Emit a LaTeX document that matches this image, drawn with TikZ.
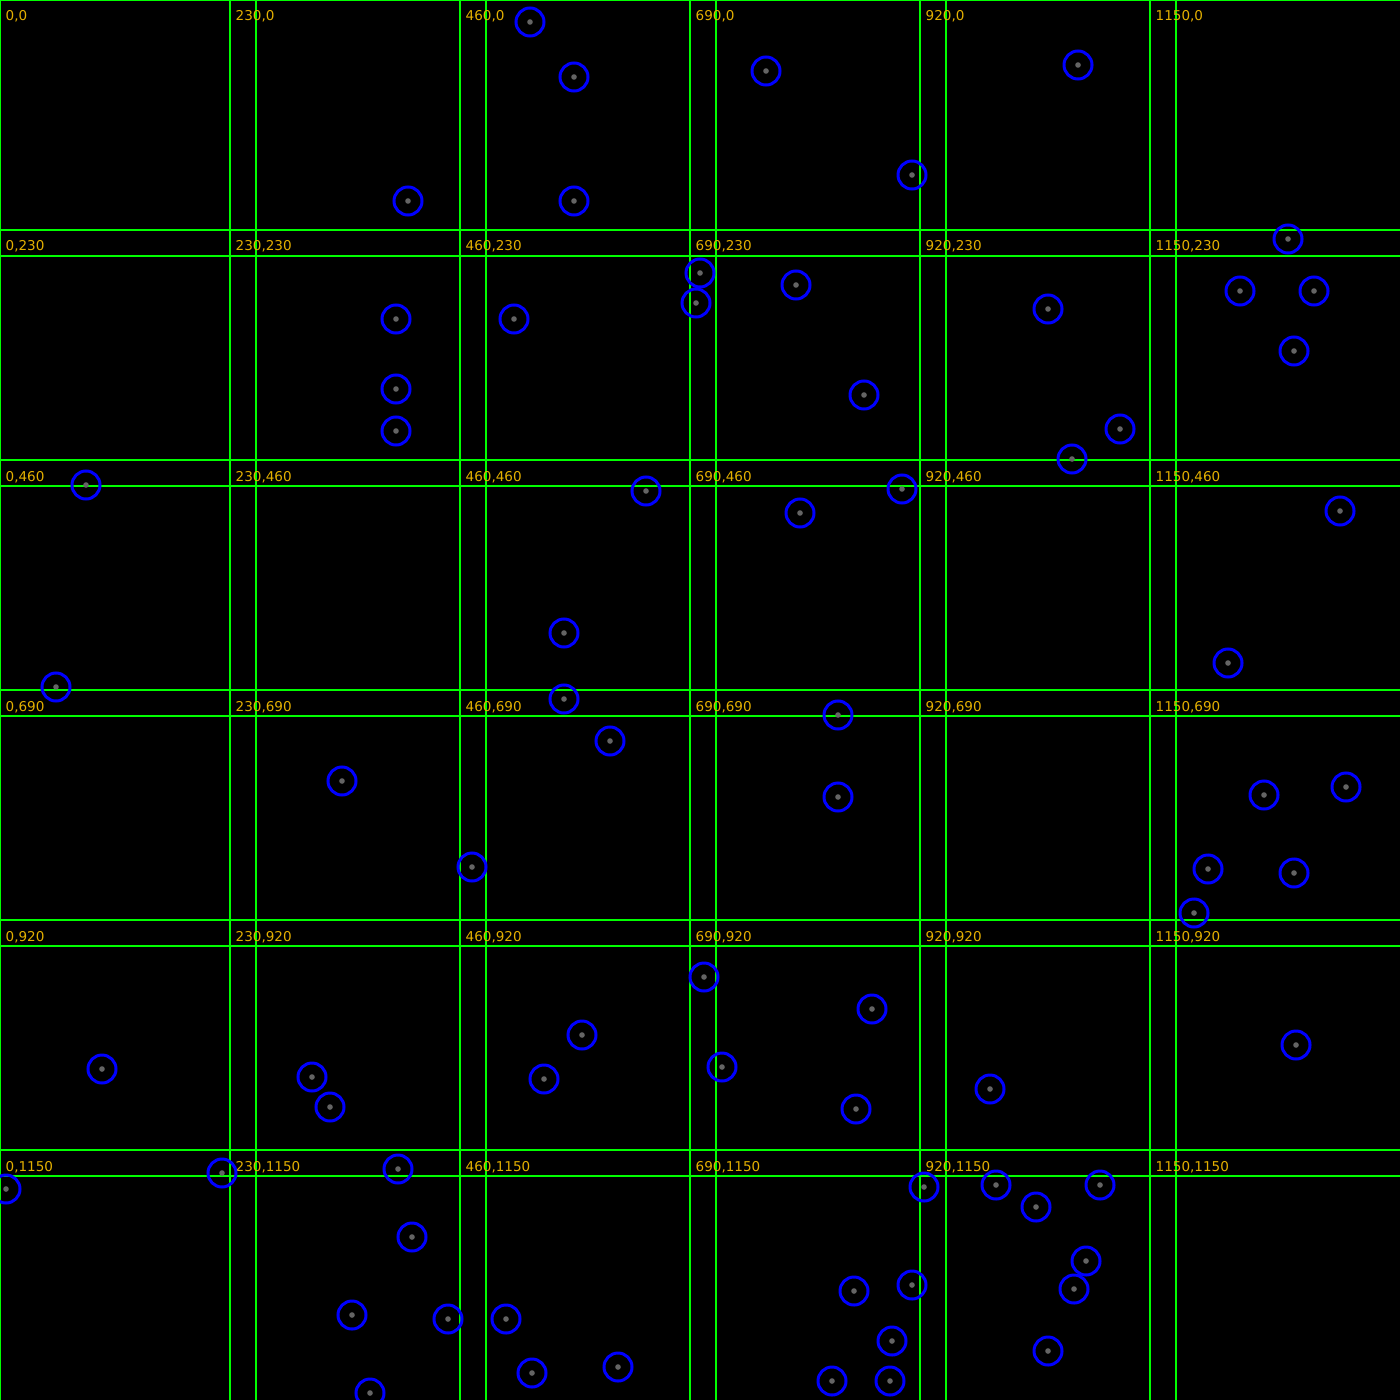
\documentclass[tikz,border=0pt]{standalone}
\usepackage{fontspec}
\newfontfamily\cellfont{DejaVu Sans}
\usetikzlibrary{positioning}
\definecolor{GridGreen}{RGB}{0,255,0}
\definecolor{CellYellow}{RGB}{228,176,0}
\definecolor{SpotBlue}{RGB}{0,0,255}
\definecolor{SpotGray}{RGB}{100,100,100}

\begin{document}
\begin{tikzpicture}[x=0.01cm, y=-0.01cm,
    gridline/.style={GridGreen, line width=0.3pt},
    celllabel/.style={anchor=base west, inner sep=0pt, text=CellYellow,
      font=\cellfont\fontsize{3.85}{4.5}\selectfont},
    spot/.style={circle, draw=SpotBlue, line width=0.85pt, minimum size=0.28cm, inner sep=0pt}]
  \fill[black] (0,0) rectangle (1400,1400);
  \useasboundingbox (0,0) rectangle (1400,1400);
  % grid
  \draw[gridline] (0.5,0) -- (0.5,1400);
  \draw[gridline] (0,0.5) -- (1400,0.5);
  \foreach \p in {230,460,690,920,1150} {
    \draw[gridline] (\p,0) -- (\p,1400);
    \draw[gridline] (\p+26,0) -- (\p+26,1400);
    \draw[gridline] (0,\p) -- (1400,\p);
    \draw[gridline] (0,\p+26) -- (1400,\p+26);
  }
  % cell labels
  \foreach \x in {0,230,460,690,920,1150} {
    \foreach \y in {0,230,460,690,920,1150} {
      \node[celllabel] (lbl-\x-\y) at (\x+5,\y+21) {\x,\y};
    }
  }
  % spots
  \foreach \cx/\cy [count=\i] in {
    530/22, 574/77, 408/201, 574/201, 766/71, 912/175, 1078/65,
    1288/239, 396/319, 514/319, 700/273, 696/303, 796/285, 1048/309,
    1240/291, 1314/291, 1294/351, 396/389, 396/431, 864/395, 1120/429, 1072/459,
    86/485, 646/491, 902/489, 800/513, 1340/511, 564/633, 1228/663, 56/687,
    564/699, 838/715, 610/741, 342/781, 838/797, 1264/795, 1346/787,
    472/867, 1208/869, 1294/873, 1194/913,
    704/977, 872/1009, 582/1035, 1296/1045, 102/1069, 722/1067, 312/1077,
    544/1079, 990/1089, 330/1107, 856/1109,
    6/1189, 222/1173, 398/1169, 924/1187, 996/1185, 1036/1207, 1100/1185,
    412/1237, 1086/1261, 1074/1289, 912/1285, 854/1291, 352/1315, 448/1319,
    506/1319, 892/1341, 1048/1351, 618/1367, 532/1373, 832/1381, 890/1381, 370/1393} {
    \node[spot] (c\i) at (\cx,\cy) {};
    \fill[SpotGray] (c\i.center) circle (0.028cm);
  }
\end{tikzpicture}
\end{document}
